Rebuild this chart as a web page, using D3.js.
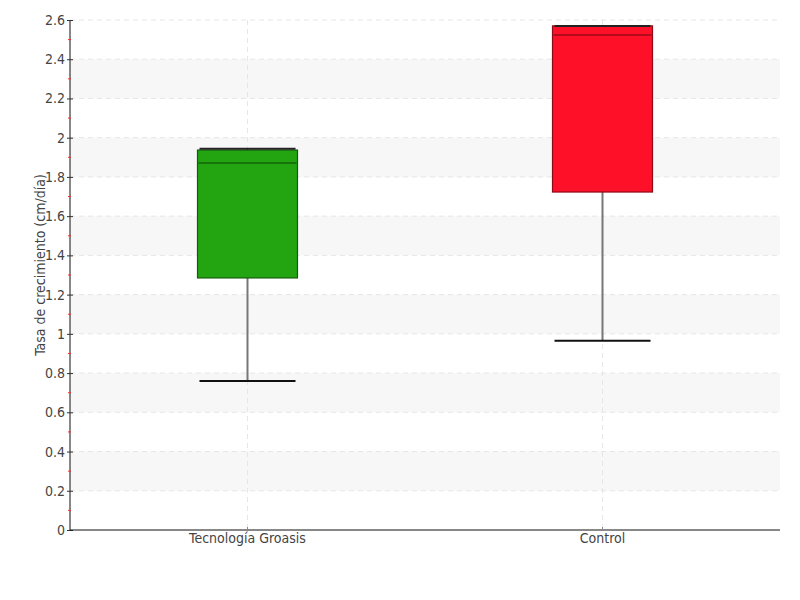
<!DOCTYPE html>
<html>
<head>
<meta charset="utf-8">
<script src="https://cdn.jsdelivr.net/npm/d3@7"></script>
<style>
body { margin: 0; background: #fff; }
text { font-family: "Liberation Sans Narrow", "DejaVu Sans Condensed", sans-serif; }
</style>
</head>
<body>
<div id="chart"></div>
<script>
// data
var categories = ["Tecnología Groasis", "Control"];
var mins    = [0.76, 0.965];
var q1s     = [1.285, 1.723];
var medians = [1.871, 2.524];
var q3s     = [1.937, 2.57];
var maxs    = [1.943, 2.57];
var fills   = ["#22a511", "#ff1029"];
var yTicks  = [0, 0.2, 0.4, 0.6, 0.8, 1, 1.2, 1.4, 1.6, 1.8, 2, 2.2, 2.4, 2.6];
var bandStarts = [0.2, 0.6, 1.0, 1.4, 1.8, 2.2];

var margin = {top: 20, right: 20, bottom: 70, left: 70},
    width = 800 - margin.left - margin.right,
    height = 600 - margin.top - margin.bottom;

var x = d3.scaleBand().domain(categories).range([0, width]).padding(0);
var y = d3.scaleLinear().domain([0, 2.6]).range([height, 0]);

var svg = d3.select("#chart").append("svg")
  .attr("width", 800).attr("height", 600)
  .append("g")
  .attr("transform", "translate(" + margin.left + "," + margin.top + ")");

// alternating bands
svg.selectAll(".band").data(bandStarts).enter().append("rect")
  .attr("x", 0).attr("width", width)
  .attr("y", function(d) { return y(d + 0.2); })
  .attr("height", function(d) { return y(d) - y(d + 0.2); })
  .attr("fill", "#f7f7f7");

// horizontal grid
svg.selectAll(".hgrid").data(yTicks.slice(1)).enter().append("line")
  .attr("x1", 0).attr("x2", width)
  .attr("y1", function(d) { return y(d); }).attr("y2", function(d) { return y(d); })
  .attr("stroke", "#e6e6e6").attr("stroke-dasharray", "5,4");

// vertical grid
svg.selectAll(".vgrid").data(categories).enter().append("line")
  .attr("x1", function(d) { return x(d) + x.bandwidth() / 2; })
  .attr("x2", function(d) { return x(d) + x.bandwidth() / 2; })
  .attr("y1", 0).attr("y2", height)
  .attr("stroke", "#e6e6e6").attr("stroke-dasharray", "5,4");

var boxW = 100, capW = 96;
var g = svg.selectAll(".box").data(categories).enter().append("g")
  .attr("transform", function(d) { return "translate(" + (x(d) + x.bandwidth() / 2) + ",0)"; });

// whisker stem
g.append("line")
  .attr("x1", 0).attr("x2", 0)
  .attr("y1", function(d, i) { return y(mins[i]); })
  .attr("y2", function(d, i) { return y(maxs[i]); })
  .attr("stroke", "#777").attr("stroke-width", 2);

// box
g.append("rect")
  .attr("x", -boxW / 2).attr("width", boxW)
  .attr("y", function(d, i) { return y(q3s[i]); })
  .attr("height", function(d, i) { return y(q1s[i]) - y(q3s[i]); })
  .attr("fill", function(d, i) { return fills[i]; })
  .attr("stroke", function(d, i) { return d3.color(fills[i]).darker(1.6); })
  .attr("stroke-width", 1.2);

// median
g.append("line")
  .attr("x1", -boxW / 2 + 1).attr("x2", boxW / 2 - 1)
  .attr("y1", function(d, i) { return y(medians[i]); })
  .attr("y2", function(d, i) { return y(medians[i]); })
  .attr("stroke", function(d, i) { return d3.color(fills[i]).darker(1.4); })
  .attr("stroke-width", 1.5);

// caps
g.append("line")
  .attr("x1", -capW / 2).attr("x2", capW / 2)
  .attr("y1", function(d, i) { return y(mins[i]); })
  .attr("y2", function(d, i) { return y(mins[i]); })
  .attr("stroke", "#111").attr("stroke-width", 2);
g.append("line")
  .attr("x1", -capW / 2).attr("x2", capW / 2)
  .attr("y1", function(d, i) { return y(maxs[i]); })
  .attr("y2", function(d, i) { return y(maxs[i]); })
  .attr("stroke", "#222").attr("stroke-width", 2);

// y axis
var yAxis = svg.append("g")
  .call(d3.axisLeft(y).tickValues(yTicks).tickSize(3).tickFormat(d3.format("~g")));
yAxis.select(".domain").attr("stroke", "#111").attr("d", "M0," + height + "V0");
yAxis.selectAll(".tick line").attr("stroke", "#333").attr("x2", 3).attr("x1", -3);
yAxis.selectAll("text").attr("x", -5).style("font-size", "14px").attr("fill", "#444");

// minor ticks (red)
svg.selectAll(".minor").data(yTicks.slice(0, -1)).enter().append("line")
  .attr("x1", -2).attr("x2", 1)
  .attr("y1", function(d) { return y(d + 0.1); }).attr("y2", function(d) { return y(d + 0.1); })
  .attr("stroke", "#f03030");

// x axis
var xAxis = svg.append("g")
  .attr("transform", "translate(0," + height + ")")
  .call(d3.axisBottom(x).tickSize(3).tickSizeOuter(0));
xAxis.select(".domain").attr("stroke", "#111").attr("d", "M0,0H" + width);
xAxis.selectAll(".tick line").attr("stroke", "#888").attr("y1", -3).attr("y2", 0);
xAxis.selectAll("text").attr("y", 3).style("font-size", "14px").attr("fill", "#444");

svg.append("text")
  .attr("transform", "rotate(-90)")
  .attr("x", -height / 2 + 10)
  .attr("y", -25)
  .style("text-anchor", "middle")
  .style("font-size", "14px")
  .attr("fill", "#444")
  .text("Tasa de crecimiento (cm/día)");
</script>
</body>
</html>
